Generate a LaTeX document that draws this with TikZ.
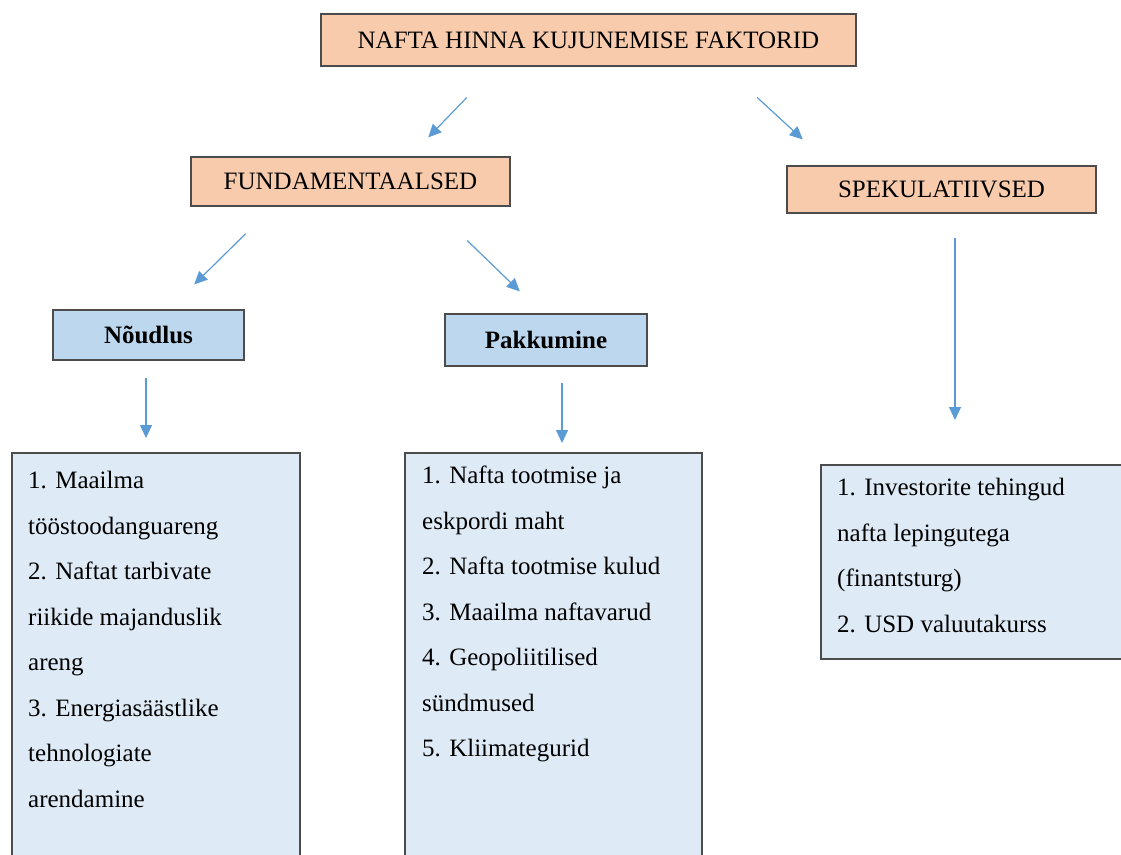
\documentclass[tikz,border=0pt]{standalone}
\usepackage{fontspec}
\setmainfont{Liberation Serif}
\usetikzlibrary{arrows.meta,positioning}

\definecolor{peach}{HTML}{F8CBAD}
\definecolor{headblue}{HTML}{BDD7EE}
\definecolor{listblue}{HTML}{DEEBF7}
\definecolor{arrowblue}{HTML}{5B9BD5}

\tikzset{
  factorbox/.style={draw=black!70, line width=1.5pt, fill=peach, inner sep=0pt,
    font=\fontsize{25}{30}\selectfont},
  groupbox/.style={draw=black!70, line width=1.5pt, fill=headblue, inner sep=0pt,
    font=\fontsize{25}{30}\selectfont\bfseries},
  listbox/.style={draw=black!70, line width=1.5pt, fill=listblue, inner sep=0pt,
    anchor=north west},
  listtext/.style={anchor=north west, inner sep=0pt, align=left,
    font=\fontsize{25}{45.5}\selectfont},
  flow/.style={draw=arrowblue, line width=1.2pt,
    -{Triangle[length=13pt,width=12pt]}}
}

\begin{document}
\begin{tikzpicture}[x=1pt, y=-1pt]

\clip (0,0) rectangle (1121,854);

% Factor boxes
\node[factorbox, minimum width=535, minimum height=52] (top) at (588.5,40) {NAFTA HINNA KUJUNEMISE FAKTORID};
\node[factorbox, minimum width=319, minimum height=49] (fund) at (350.5,181.5) {FUNDAMENTAALSED};
\node[factorbox, minimum width=309, minimum height=47] (spek) at (941.5,189.5) {SPEKULATIIVSED};

% Demand and supply
\node[groupbox, minimum width=191, minimum height=50] (noud) at (148.5,335) {Nõudlus};
\node[groupbox, minimum width=202, minimum height=52] (pakk) at (546,340) {Pakkumine};

% List boxes
\node[listbox, minimum width=288, minimum height=440] (needs) at (11,452) {};
\node[listbox, minimum width=297, minimum height=440] (supply) at (404,452) {};
\node[listbox, minimum width=330, minimum height=194] (spec) at (820,464) {};

\node[listtext] (needstext) at ([shift={(17,19)}]needs.north west)
  {1. Maailma\\ tööstoodanguareng\\ 2. Naftat tarbivate\\ riikide majanduslik\\ areng\\
   3. Energiasäästlike\\ tehnologiate\\ arendamine};
\node[listtext] (supplytext) at ([shift={(18,14)}]supply.north west)
  {1. Nafta tootmise ja\\ eskpordi maht\\ 2. Nafta tootmise kulud\\ 3. Maailma naftavarud\\
   4. Geopoliitilised\\ sündmused\\ 5. Kliimategurid};
\node[listtext] (spectext) at ([shift={(17,14)}]spec.north west)
  {1. Investorite tehingud\\ nafta lepingutega\\ (finantsturg)\\ 2. USD valuutakurss};

% Arrows
\draw[flow, shorten <=42.8pt, shorten >=26.2pt] ([shift={(-92,0)}]top.south) -- ([shift={(59.5,0)}]fund.north);
\draw[flow, shorten <=45.4pt, shorten >=38.1pt] ([shift={(135.3,0)}]top.south) -- ([shift={(-110.7,0)}]spek.north);
\draw[flow, shorten <=38.2pt, shorten >=35.4pt] ([shift={(-77.5,0)}]fund.south) -- ([shift={(20.5,0)}]noud.north);
\draw[flow, shorten <=48.6pt, shorten >=31.4pt] ([shift={(81.8,0)}]fund.south) -- ([shift={(-3.6,0)}]pakk.north);
\draw[flow, shorten <=17pt, shorten >=14pt] ([shift={(-2.5,0)}]noud.south) -- ([shift={(-2.5,0)}]noud.south |- needs.north);
\draw[flow, shorten <=16pt, shorten >=9pt] ([shift={(16,0)}]pakk.south) -- ([shift={(16,0)}]pakk.south |- supply.north);
\draw[flow, shorten <=24pt, shorten >=44pt] ([shift={(13.5,0)}]spek.south) -- ([shift={(13.5,0)}]spek.south |- spec.north);

\end{tikzpicture}
\end{document}
